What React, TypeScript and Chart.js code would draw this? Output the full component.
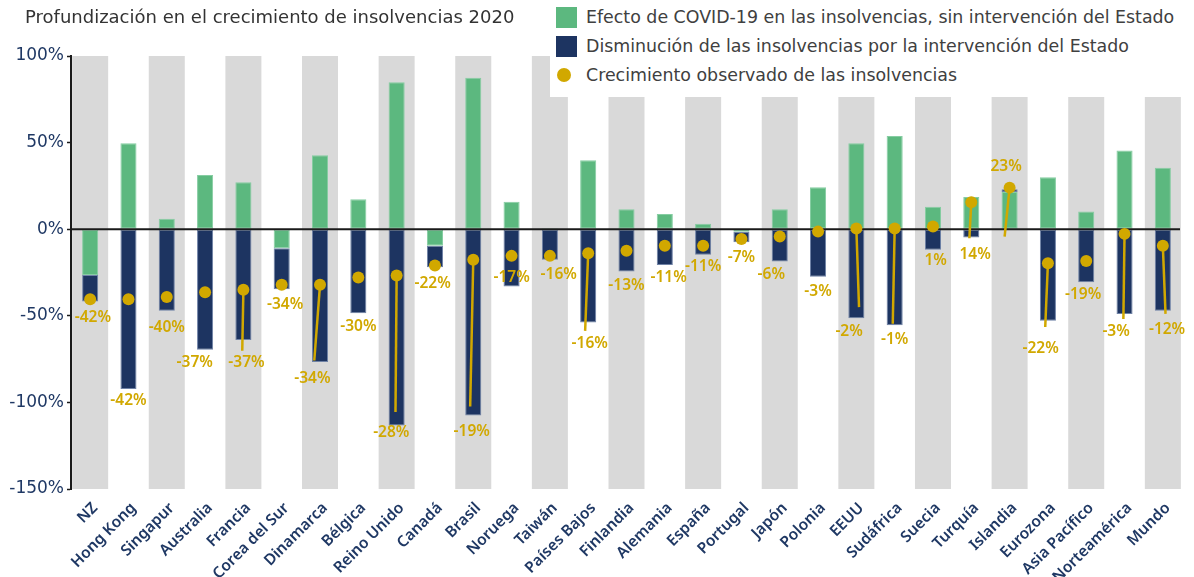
import React, { useEffect, useRef } from "react";
import { Chart, registerables } from "chart.js";

Chart.register(...registerables);

const categories = [
  "NZ", "Hong Kong", "Singapur", "Australia", "Francia", "Corea del Sur", "Dinamarca",
  "Bélgica", "Reino Unido", "Canadá", "Brasil", "Noruega", "Taiwán", "Países Bajos",
  "Finlandia", "Alemania", "España", "Portugal", "Japón", "Polonia", "EEUU", "Sudáfrica",
  "Suecia", "Turquía", "Islandia", "Eurozona", "Asia Pacífico", "Norteamérica", "Mundo",
];

// Efecto de COVID-19 sin intervención (green)
const covidEffect = [
  -26.4, 49.6, 6, 31.3, 27.1, -11, 42.7, 17.3, 84.8, -9.5, 87.5, 15.8, 0.6, 39.8,
  11.5, 8.8, 3.2, -1.5, 11.5, 24.2, 49.6, 53.8, 13, 18.6, 21.5, 30, 10.2, 45.4, 35.5,
];

// Disminución por la intervención del Estado (navy)
const stateReduction = [
  -15.4, -92.2, -47.1, -69.6, -64, -23.6, -76.7, -48.5, -113.3, -12.4, -107.5, -33.1, -17.7, -53.9,
  -24.4, -20.6, -14.8, -6, -18.7, -27.5, -51.4, -55.4, -11.9, -4.8, 1.5, -52.9, -30.6, -48.9, -47.1,
];

// Crecimiento observado (dots)
const observedDots = [
  -40.4, -40.4, -39.2, -36.4, -35, -32.1, -32.1, -27.9, -26.8, -21, -17.7, -15.4, -15.4, -13.9,
  -12.5, -9.6, -9.6, -5.6, -4.2, -1.4, 0.4, 0.4, 1.5, 15.6, 24, -19.6, -18.3, -2.7, -9.6,
];

const observedLabels = [
  "-42%", "-42%", "-40%", "-37%", "-37%", "-34%", "-34%", "-30%", "-28%", "-22%", "-19%", "-17%", "-16%", "-16%",
  "-13%", "-11%", "-11%", "-7%", "-6%", "-3%", "-2%", "-1%", "1%", "14%", "23%", "-22%", "-19%", "-3%", "-12%",
];

// label anchor (value units) and horizontal shift (category units)
const labelAnchor = [
  -51, -99, -56.8, -76.8, -76.8, -43.3, -86, -56.5, -117.7, -31.2, -116.8, -27.7, -26.4, -66.2,
  -32.7, -27.9, -21.6, -16.2, -26.4, -36, -59.1, -63.5, -18.3, -14.4, 36, -68.7, -37.9, -59.1, -57.7,
];
const labelShift = [
  0.07, 0, 0, -0.27, 0.08, 0.09, -0.2, 0, -0.14, -0.06, -0.04, 0, 0.23, 0.04,
  0, 0.1, 0, 0, -0.22, 0, -0.19, 0, 0.07, 0.1, -0.09, -0.19, -0.08, -0.22, 0.11,
];

// leader line ends (value units) and their horizontal shift (category units)
const leaderEnd = [
  null, null, null, null, -70.2, null, -75.8, null, -105.6, null, -102.4, null, null, -58.7,
  null, null, null, null, null, null, -45, -54.6, null, -5.2, -4.3, -56.5, null, -51.9, -48.9,
];
const leaderShift = [
  0, 0, 0, 0, -0.03, 0, -0.15, 0, -0.03, 0, -0.08, 0, 0, -0.08,
  0, 0, 0, 0, 0, 0, 0.07, -0.05, 0, -0.05, -0.13, -0.07, 0, -0.03, 0.07,
];

const yMin = -150;
const yMax = 100;
const yStep = 50;

const GREEN = "#5cb87f";
const NAVY = "#1d3461";
const GOLD = "#d1a800";
const GREY = "#d9d9d9";
const AXIS_TEXT = "#1f3864";
const FONT = "'Noto Sans', sans-serif";
const WIDE_FONT = "'DejaVu Sans', sans-serif";

const legendItems = [
  { label: "Efecto de COVID-19 en las insolvencias, sin intervención del Estado", color: GREEN, shape: "square" },
  { label: "Disminución de las insolvencias por la intervención del Estado", color: NAVY, shape: "square" },
  { label: "Crecimiento observado de las insolvencias", color: GOLD, shape: "circle" },
];

const overlayPlugin = {
  id: "overlay",
  afterDatasetDraw(chart: any, args: any) {
    if (args.index !== 1) return;
    const { ctx, chartArea } = chart;
    const xs = chart.scales.x;
    const ys = chart.scales.y;
    ctx.save();
    const y0 = ys.getPixelForValue(0);
    ctx.strokeStyle = "#1a1a1a";
    ctx.lineWidth = 2;
    ctx.beginPath();
    ctx.moveTo(chartArea.left, y0);
    ctx.lineTo(chartArea.right - 2, y0);
    ctx.stroke();
    const cw = xs.getPixelForValue(1) - xs.getPixelForValue(0);
    ctx.strokeStyle = GOLD;
    ctx.lineWidth = 2.5;
    leaderEnd.forEach((v, i) => {
      if (v == null) return;
      const xc = xs.getPixelForValue(i);
      ctx.beginPath();
      ctx.moveTo(xc, ys.getPixelForValue(observedDots[i]));
      ctx.lineTo(xc + leaderShift[i] * cw, ys.getPixelForValue(v));
      ctx.stroke();
    });
    ctx.restore();
  },
  afterDatasetsDraw(chart: any) {
    const { ctx } = chart;
    const xs = chart.scales.x;
    const ys = chart.scales.y;
    const cw = xs.getPixelForValue(1) - xs.getPixelForValue(0);
    ctx.save();
    ctx.fillStyle = GOLD;
    ctx.font = `600 15.5px ${FONT}`;
    ctx.textAlign = "center";
    ctx.textBaseline = "middle";
    observedLabels.forEach((t, i) => {
      const x = xs.getPixelForValue(i) + labelShift[i] * cw;
      const y = ys.getPixelForValue(labelAnchor[i]);
      ctx.fillText(t, x, y);
    });
    ctx.restore();
  },
};

export default function App() {
  const ref = useRef<HTMLCanvasElement | null>(null);

  useEffect(() => {
    document.body.style.margin = "0";
    const canvas = ref.current;
    if (!canvas) return;
    const chart = new Chart(canvas, {
      type: "bar",
      data: {
        labels: categories,
        datasets: [
          {
            label: "band",
            data: categories.map((_, i) => (i % 2 === 0 ? [yMin, yMax] : null)) as any,
            backgroundColor: GREY,
            xAxisID: "xb",
            yAxisID: "yb",
            grouped: false,
            barPercentage: 0.94,
            categoryPercentage: 1,
            order: 3,
          } as any,
          {
            label: legendItems[0].label,
            data: covidEffect,
            backgroundColor: GREEN,
            borderColor: "#86cda2",
            borderWidth: 1,
            borderSkipped: false,
            grouped: false,
            barPercentage: 0.42,
            categoryPercentage: 1,
            order: 1,
          } as any,
          {
            label: legendItems[1].label,
            data: stateReduction,
            backgroundColor: NAVY,
            borderColor: "#6f82a6",
            borderWidth: 1,
            borderSkipped: false,
            grouped: false,
            barPercentage: 0.42,
            categoryPercentage: 1,
            order: 2,
          } as any,
          {
            type: "line",
            label: legendItems[2].label,
            data: observedDots,
            showLine: false,
            pointRadius: 6,
            pointBackgroundColor: GOLD,
            pointBorderWidth: 0,
            yAxisID: "yb",
            order: 0,
          } as any,
        ],
      },
      options: {
        animation: false,
        responsive: false,
        layout: { padding: { top: 56, right: 12, left: 0, bottom: 0 } },
        plugins: { legend: { display: false }, tooltip: { enabled: false } },
        scales: {
          x: {
            stacked: true,
            offset: true,
            grid: { display: false, drawTicks: false },
            border: { display: false },
            ticks: {
              autoSkip: false,
              maxRotation: 45,
              minRotation: 45,
              color: AXIS_TEXT,
              font: { family: FONT, size: 15.5, weight: "600" },
              padding: 10,
              labelOffset: 5,
            },
            afterFit: (s: any) => {
              s.height = 88;
            },
          },
          xb: {
            display: false,
            offset: true,
            grid: { display: false },
          },
          y: {
            stacked: true,
            min: yMin,
            max: yMax,
            ticks: {
              stepSize: yStep,
              color: AXIS_TEXT,
              font: { family: WIDE_FONT, size: 17 },
              padding: 3,
              callback: (v: any) => `${v}%`,
            },
            grid: { drawOnChartArea: false, tickLength: 4, tickColor: "#1a1a1a", tickWidth: 1.5 },
            border: { display: true, color: "#1a1a1a", width: 2 },
            afterFit: (s: any) => {
              s.width = 71;
            },
          },
          yb: {
            display: false,
            min: yMin,
            max: yMax,
          },
        },
      },
      plugins: [overlayPlugin],
    });
    return () => chart.destroy();
  }, []);

  return (
    <div style={{ position: "fixed", left: 0, top: 0, width: 1194, height: 577, background: "#fff", overflow: "hidden" }}>
      <canvas ref={ref} width={1194} height={577} style={{ position: "absolute", left: 0, top: 0, width: 1194, height: 577 }} />
      <div
        style={{
          position: "absolute",
          left: 25,
          top: 5,
          fontFamily: WIDE_FONT,
          fontSize: 18,
          color: "#333",
          whiteSpace: "nowrap",
          lineHeight: "24px",
        }}
      >
        Profundización en el crecimiento de insolvencias 2020
      </div>
      <div
        style={{
          position: "absolute",
          left: 550,
          top: 0,
          width: 644,
          height: 97,
          background: "#fff",
          fontFamily: WIDE_FONT,
          fontSize: 17.4,
          color: "#404040",
        }}
      >
        {legendItems.map((it, i) => (
          <div key={i} style={{ position: "absolute", left: 0, top: 4 + i * 29, height: 26, display: "flex", alignItems: "center", whiteSpace: "nowrap" }}>
            <div style={{ width: 36, display: "flex", justifyContent: "flex-start" }}>
              {it.shape === "square" ? (
                <div style={{ marginLeft: 6, width: 21, height: 21, background: it.color }} />
              ) : (
                <div style={{ marginLeft: 7, width: 14, height: 14, borderRadius: 7, background: it.color }} />
              )}
            </div>
            <span>{it.label}</span>
          </div>
        ))}
      </div>
    </div>
  );
}
